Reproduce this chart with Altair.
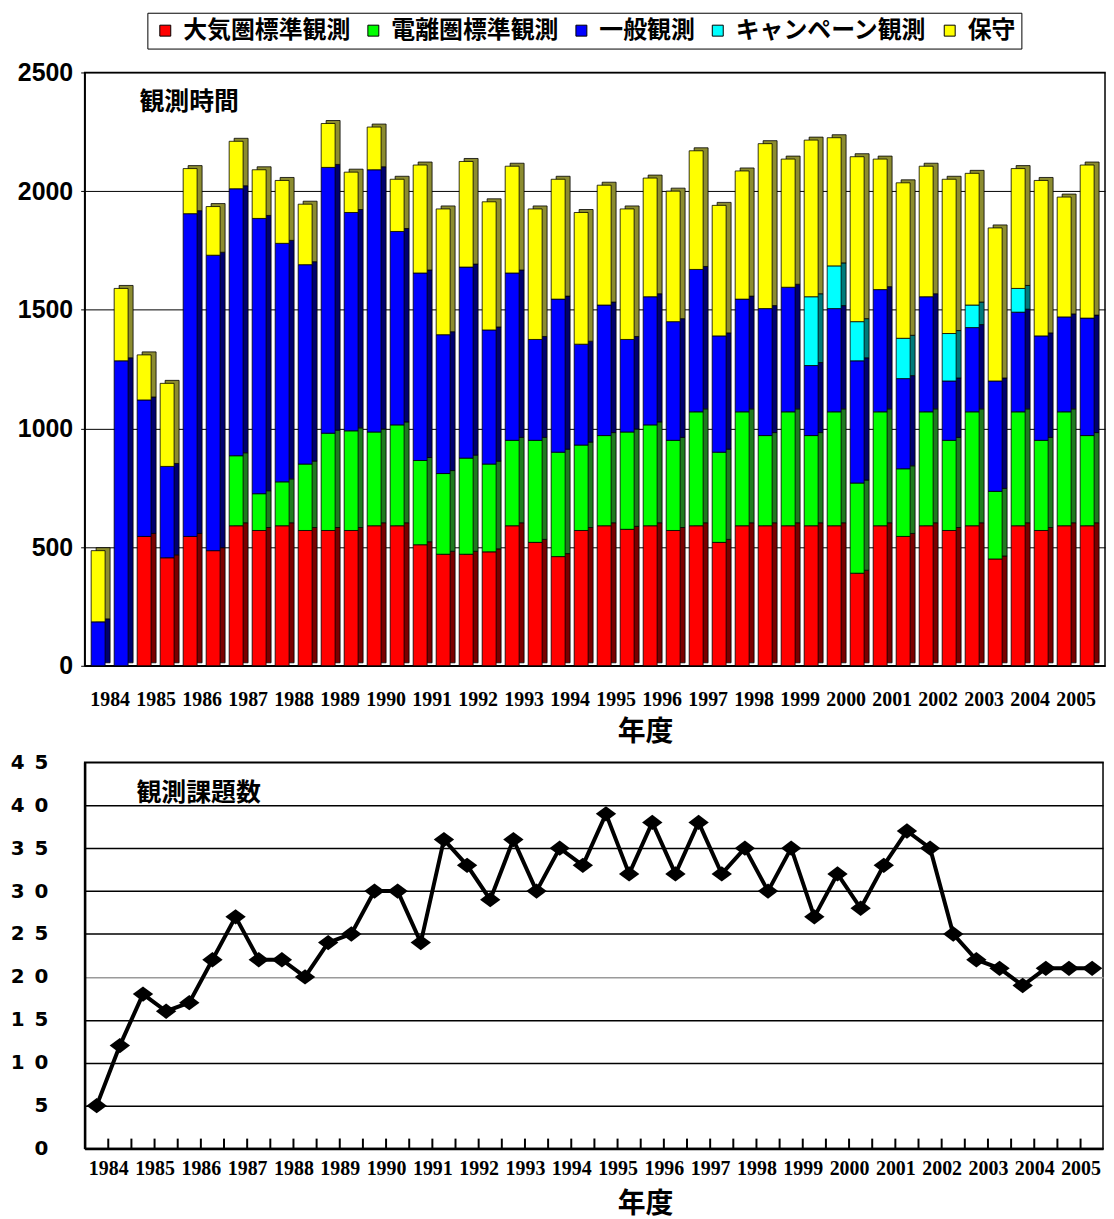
import altair as alt
import pandas as pd

years = list(range(1984, 2006))
categories = ["大気圏標準観測", "電離圏標準観測", "一般観測", "キャンペーン観測", "保守"]
top_title = ["観測時間"]
bottom_title = ["観測課題数"]

atmos = [0, 0, 545, 455, 545, 485, 590, 570, 590, 570, 570, 570, 590, 590, 510, 470, 470, 480, 590, 520, 460, 570,
         590, 575, 590, 570, 590, 520, 590, 590, 590, 590, 590, 390, 590, 545, 590, 570, 590, 450, 590, 570, 590, 590]
iono = [0, 0, 0, 0, 0, 0, 295, 155, 185, 280, 410, 420, 395, 425, 355, 340, 405, 370, 360, 430, 440, 360,
        380, 410, 425, 380, 480, 380, 480, 380, 480, 380, 480, 380, 480, 285, 480, 380, 480, 285, 480, 380, 480, 380]
general = [185, 1285, 575, 385, 1360, 1245, 1125, 1160, 1005, 840, 1120, 920, 1105, 815, 790, 585, 805, 565, 705, 425, 645, 425,
           550, 390, 540, 500, 600, 490, 475, 535, 525, 295, 435, 515, 515, 380, 485, 250, 355, 465, 420, 440, 400, 495]
campaign = [0] * 31 + [290, 180, 165, 0, 170, 0, 200, 95, 0, 100, 0, 0, 0]
maint = [300, 305, 190, 350, 190, 205, 200, 205, 265, 255, 185, 170, 180, 220, 455, 530, 445, 540, 450, 550, 505, 555,
         505, 550, 500, 550, 500, 550, 540, 695, 540, 660, 540, 695, 550, 655, 550, 650, 555, 645, 505, 655, 505, 645]

counts = [5, 12, 18, 16, 17, 22, 27, 22, 22, 20, 24, 25, 30, 30, 24, 36, 33, 29, 36, 30, 35, 33,
          39, 32, 38, 32, 38, 32, 35, 30, 35, 27, 32, 28, 33, 37, 35, 25, 22, 21, 19, 21, 21, 21]

front_colors = ["#FF0000", "#00FF00", "#0000FF", "#00FFFF", "#FFFF00"]
side_colors = ["#7A0000", "#1F7A1F", "#00006E", "#007A7A", "#8C8C30"]

CJK = "Noto Sans CJK JP"
SERIF = "Liberation Serif"

series = [atmos, iono, general, campaign, maint]
rows = []
for i in range(len(counts)):
    for k, (cat, vals) in enumerate(zip(categories, series)):
        rows.append({"idx": i, "cat": cat, "ord": k, "value": vals[i]})
bars_df = pd.DataFrame(rows)
count_df = pd.DataFrame({"idx": list(range(len(counts))), "count": counts})

label_vals = [2 * k + 0.5 for k in range(len(years))]
years_js = "[" + ",".join("'%d'" % y for y in years) + "]"
year_expr = years_js + "[floor(datum.value/2)]"

# ---------- top chart ----------
xs_top = alt.X("idx:Q",
               scale=alt.Scale(domain=[-0.37, 43.56], nice=False, zero=False),
               axis=alt.Axis(values=label_vals, labelExpr=year_expr, ticks=False, grid=False,
                             domainColor="black", domainWidth=1.5,
                             labelFont=SERIF, labelFontWeight="bold", labelFontSize=20, labelColor="black",
                             labelPadding=24, labelOverlap=False, labelFlush=False,
                             title="年度", titleFont=CJK, titleFontSize=28, titleFontWeight="bold",
                             titleColor="black", titleX=563, titleY=75, titleAlign="center",
                             titleBaseline="alphabetic"))
ys_top = alt.Y("value:Q", stack="zero",
               scale=alt.Scale(domain=[0, 2500], nice=False),
               axis=alt.Axis(values=[0, 500, 1000, 1500, 2000, 2500], format="d", grid=True,
                             gridColor="black", gridWidth=1,
                             tickColor="black", tickSize=4, domainColor="black", domainWidth=1.5,
                             labelFont="Liberation Sans", labelFontSize=25, labelFontWeight="bold",
                             labelColor="black", labelPadding=8, title=None))

base = alt.Chart(bars_df).transform_filter("datum.value > 0")

side = base.mark_bar(width=14, xOffset=5, x2Offset=5, yOffset=-3, y2Offset=-3,
                     stroke="black", strokeWidth=0.8).encode(
    x=xs_top, y=ys_top,
    color=alt.Color("cat:N", scale=alt.Scale(domain=categories, range=side_colors), legend=None),
    order=alt.Order("ord:Q", sort="ascending"),
)
front = base.mark_bar(width=14, stroke="black", strokeWidth=0.8).encode(
    x=xs_top, y=ys_top,
    color=alt.Color("cat:N", scale=alt.Scale(domain=categories, range=front_colors),
                    legend=alt.Legend(title=None, orient="none", legendX=63, legendY=-60,
                                      direction="horizontal", symbolType="square", symbolSize=121,
                                      symbolStrokeColor="black", symbolStrokeWidth=1, symbolOpacity=1,
                                      labelFont=CJK, labelFontSize=24, labelFontWeight="bold",
                                      labelColor="black", labelOffset=6, labelLimit=400,
                                      columnPadding=11, padding=6, strokeColor="black",
                                      fillColor="white")),
    order=alt.Order("ord:Q", sort="ascending"),
)
top_label = alt.Chart(pd.DataFrame({"t": top_title})).mark_text(
    align="left", baseline="middle", font=CJK, fontSize=25, fontWeight="bold", color="black"
).encode(text="t:N", x=alt.value(55), y=alt.value(30))

top = alt.layer(side, front, top_label).resolve_scale(color="independent").properties(
    width=1025, height=596,
)

# ---------- bottom chart ----------
xs_bot = alt.X("idx:Q",
               scale=alt.Scale(domain=[-0.52, 43.47], nice=False, zero=False),
               axis=alt.Axis(values=label_vals, labelExpr=year_expr, ticks=False, grid=False,
                             domainColor="black", domainWidth=2.5,
                             labelFont=SERIF, labelFontWeight="bold", labelFontSize=20, labelColor="black",
                             labelPadding=10, labelOverlap=False, labelFlush=False,
                             title="年度", titleFont=CJK, titleFontSize=28, titleFontWeight="bold",
                             titleColor="black", titleX=563, titleY=64, titleAlign="center",
                             titleBaseline="alphabetic"))
ys_bot = alt.Y("count:Q",
               scale=alt.Scale(domain=[0, 45], nice=False),
               axis=alt.Axis(values=list(range(0, 50, 5)), grid=True,
                             gridColor=alt.condition("datum.value === 20", alt.value("#9a9a9a"), alt.value("black")),
                             gridWidth=1.5, ticks=False, domainColor="black", domainWidth=2.5,
                             labelFont="DejaVu Sans", labelFontSize=20, labelFontWeight="bold",
                             labelColor="black", labelPadding=37,
                             labelExpr="join(split(datum.label, ''), '\u2002')", title=None))

cbase = alt.Chart(count_df)
line = cbase.mark_line(color="black", strokeWidth=4).encode(x=xs_bot, y=ys_bot)
pts = cbase.mark_point(shape="M-1,0L0,-0.75L1,0L0,0.75Z", filled=True, size=420,
                       color="black", opacity=1).encode(x=xs_bot, y=ys_bot)
ticks = cbase.transform_filter("datum.idx < 43").transform_calculate(
    tickpos="datum.idx + 0.5").mark_tick(orient="vertical", size=10, thickness=2, yOffset=-5,
                                          color="black", opacity=1).encode(
    x=alt.X("tickpos:Q"), y=alt.datum(0))
bottom_label = alt.Chart(pd.DataFrame({"t": bottom_title})).mark_text(
    align="left", baseline="middle", font=CJK, fontSize=25, fontWeight="bold", color="black"
).encode(text="t:N", x=alt.value(52), y=alt.value(31))

bottom = alt.layer(ticks, line, pts, bottom_label).properties(
    width=1023, height=388,
)

chart = alt.vconcat(top, bottom, spacing=97, bounds="flush").properties(
    padding={"left": 1, "top": 0, "right": 0, "bottom": 0},
    background="white",
).configure_view(stroke="black", strokeWidth=1.5)

chart.save("out.html", embed_options={"renderer": "svg", "actions": False})
